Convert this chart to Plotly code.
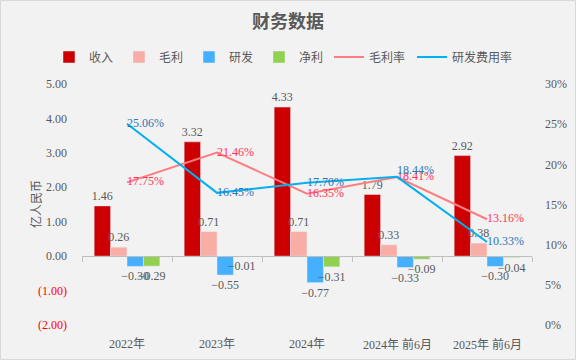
import plotly.graph_objects as go

categories = ["2022年", "2023年", "2024年", "2024年 前6月", "2025年 前6月"]
revenue = [1.46, 3.32, 4.33, 1.79, 2.92]
gross_profit = [0.26, 0.71, 0.71, 0.33, 0.38]
rnd = [-0.30, -0.55, -0.77, -0.33, -0.30]
net_profit = [-0.29, -0.01, -0.31, -0.09, -0.04]
gross_margin = [17.75, 21.46, 16.35, 18.41, 13.16]
rnd_ratio = [25.06, 16.45, 17.70, 18.44, 10.33]

left_ticks = [5, 4, 3, 2, 1, 0, -1, -2]
right_ticks = [0, 5, 10, 15, 20, 25, 30]

GRAY = "#595959"
FONT = "Liberation Serif, Noto Sans CJK SC"


def fmt(v):
    s = f"{abs(v):.2f}"
    return ("\u2212" + s) if v < 0 else s


def tick_label(v):
    if v < 0:
        return f"<span style='color:#FF0000'>({abs(v):.2f})</span>"
    return f"{v:.2f}"


fig = go.Figure()

bar_series = [
    ("收入", revenue, "#CC0000"),
    ("毛利", gross_profit, "#F8ADA5"),
    ("研发", rnd, "#45B0FF"),
    ("净利", net_profit, "#92D050"),
]
for name, vals, color in bar_series:
    fig.add_trace(go.Bar(
        x=categories, y=vals, name=name, marker_color=color,
        text=[fmt(v) for v in vals], textposition="outside",
        constraintext="none",
        textfont=dict(color=GRAY, size=12, family=FONT),
        cliponaxis=False, yaxis="y", legendwidth=25,
    ))

fig.add_trace(go.Scatter(
    x=categories, y=gross_margin, name="毛利率", mode="lines+text",
    line=dict(color="#FF7C80", width=2),
    text=[f"{v:.2f}%" for v in gross_margin],
    textposition="middle right",
    textfont=dict(color="#FF3355", size=12, family=FONT),
    yaxis="y2", cliponaxis=False, legendwidth=38,
))
fig.add_trace(go.Scatter(
    x=categories, y=rnd_ratio, name="研发费用率", mode="lines+text",
    line=dict(color="#00B0F0", width=2),
    text=[f"{v:.2f}%" for v in rnd_ratio],
    textposition=["middle right", "middle right", "middle right", "top right", "middle right"],
    textfont=dict(color="#2E75B6", size=12, family=FONT),
    yaxis="y2", cliponaxis=False,
))

for c in categories:
    fig.add_annotation(x=c, xref="x", y=0, yref="paper", yanchor="top", yshift=-10,
                       text=c, showarrow=False,
                       font=dict(color=GRAY, size=12, family=FONT))

fig.add_annotation(x=(27 - 82) / 450, xref="paper", y=0.5, yref="paper",
                   text="亿人民币", textangle=-90, showarrow=False,
                   font=dict(color=GRAY, size=12, family=FONT))

fig.update_layout(
    width=576, height=360,
    margin=dict(l=82, r=44, t=84, b=35, autoexpand=False),
    paper_bgcolor="#F2F2F2", plot_bgcolor="#F2F2F2",
    title=dict(text="<b>财务数据</b>", x=0.5, xref="container", xanchor="center",
               y=1 - 22/360, yref="container", yanchor="middle",
               font=dict(size=18, color=GRAY, family="Noto Sans CJK SC")),
    barmode="group", bargap=0.27, bargroupgap=0,
    showlegend=True,
    legend=dict(orientation="h", x=(49 - 82) / 450, xanchor="left", xref="paper",
                y=1 + (84 - 57) / 241, yref="paper", yanchor="middle",
                font=dict(size=12, color=GRAY, family=FONT),
                bgcolor="rgba(0,0,0,0)", itemwidth=30,
                traceorder="normal"),
    xaxis=dict(type="category", anchor="free", position=2/7,
               showticklabels=False, ticks="outside", tickson="boundaries",
               ticklen=5, tickcolor="#BFBFBF", showline=True, linecolor="#BFBFBF",
               linewidth=1, showgrid=False, zeroline=False, fixedrange=True),
    yaxis=dict(range=[-2, 5], tickvals=left_ticks,
               ticktext=[tick_label(v) for v in left_ticks],
               showgrid=False, zeroline=False, showline=False,
               tickfont=dict(color=GRAY, size=12, family=FONT),
               ticks="", ticklabelstandoff=14),
    yaxis2=dict(range=[0, 30], overlaying="y", side="right",
                tickvals=right_ticks, ticktext=[f"{v}%" for v in right_ticks],
                showgrid=False, zeroline=False, showline=False,
                tickfont=dict(color=GRAY, size=12, family=FONT), ticks="",
                ticklabelstandoff=12),
)

fig.add_shape(type="rect", xref="paper", yref="paper",
              x0=-81.5/450, x1=1 + 43.5/450, y0=-34.5/241, y1=1 + 83.5/241,
              line=dict(color="#D9D9D9", width=1), fillcolor="rgba(0,0,0,0)", layer="below")

fig.write_html("out.html", config={"displayModeBar": False},
               post_script="document.body.style.margin='0';document.body.style.overflow='hidden';")
